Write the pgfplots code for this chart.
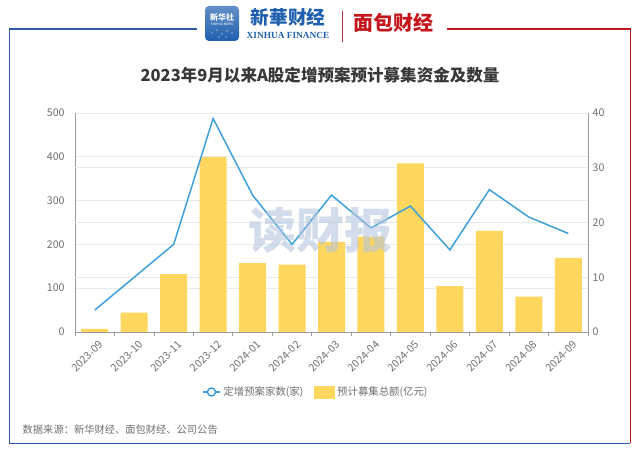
\documentclass[border=0pt]{standalone}
\usepackage{pgfplots}
\pgfplotsset{compat=1.18}
\usepackage{fontspec}
\setmainfont{Noto Sans CJK SC}
\newfontfamily\serifb{Liberation Serif}
\definecolor{barcol}{HTML}{FFD75E}
\definecolor{linecol}{HTML}{3A9FDB}
\definecolor{axgray}{HTML}{9A9A9A}
\definecolor{lblgray}{HTML}{707070}
\definecolor{gridgray}{HTML}{E6E9EE}
\definecolor{frameblue}{HTML}{2D5BA8}
\definecolor{framered}{HTML}{C4161C}
\definecolor{xhblue}{HTML}{1F5FAF}
\definecolor{wm}{HTML}{B4C5DE}
\pgfplotstableread{
x bars line
0 7 4
1 44 10
2 132 16
3 400 39
4 157 25
5 154 16
6 206 25
7 218 19
8 385 23
9 105 15
10 231 26
11 81 21
12 169 18
}\datatable
\begin{document}
\begin{tikzpicture}
\begin{scope}[x=0.75pt,y=-0.75pt,yshift=339.75pt]
\path[use as bounding box,fill=white] (0,0) rectangle (640,453);
% frame
\draw[frameblue,line width=1.2pt] (197,29) -- (9.5,29) -- (9.5,443.5) -- (630,443.5);
\draw[framered,line width=1.2pt] (447,29) -- (630.5,29) -- (630.5,443);
% logos
\shade[top color=xhblue!70,bottom color=xhblue,rounded corners=3pt] (205,6) rectangle (239,41);
\node[text=white,font=\fontsize{6}{6}\selectfont\bfseries] at (222,17) {新华社};
\node[text=white,font=\fontsize{2.5}{3}\selectfont] at (222,24) {XINHUA NEWS};
\foreach \a/\b in {212/33,217/30,222/34,227/31,232/33,219/37,226/37} \fill[white] (\a,\b) circle (0.7);
\node[text=xhblue,font=\fontsize{14}{14}\selectfont\bfseries\itshape] at (288,17) {新華财经};
\node[text=xhblue,font=\fontsize{7}{7}\selectfont\serifb\bfseries] at (288,35) {XINHUA FINANCE};
\draw[framered!70!gray,line width=0.6pt] (342,11) -- (342,42);
\node[text=framered,font=\fontsize{15}{15}\selectfont\bfseries] at (393,23) {面包财经};
% title
\node[text=black!78,font=\fontsize{12.4}{14}\selectfont\bfseries] at (320,75) {2023年9月以来A股定增预案预计募集资金及数量};
\end{scope}
% bars axis
\begin{axis}[
  at={(56.25pt,90.75pt)}, anchor=south west,
  scale only axis, width=384.75pt, height=164.25pt,
  xmin=-0.5, xmax=12.5, ymin=0, ymax=500,
  axis x line*=bottom, axis y line*=left,
  axis line style={axgray,line width=0.6pt},
  ytick={0,100,...,500},
  extra y ticks={125,250,375},
  extra y tick labels={},
  extra y tick style={grid=major, major tick length=0pt},
  ymajorgrids, grid style={gridgray,line width=0.6pt},
  major y tick style={draw=none},
  xtick={0,...,12},
  xticklabels={2023-09,2023-10,2023-11,2023-12,2024-01,2024-02,2024-03,2024-04,2024-05,2024-06,2024-07,2024-08,2024-09},
  major x tick style={draw=none},
  minor xtick={-0.5,0.5,...,12.5},
  minor tick length=3pt,
  minor x tick style={axgray,line width=0.6pt},
  tick align=outside,
  x tick label style={rotate=45,anchor=north east,font=\fontsize{7.9}{8}\selectfont,text=lblgray,inner sep=1pt,yshift=-2pt,xshift=2pt},
  y tick label style={font=\fontsize{8}{9}\selectfont,text=lblgray},
  /pgf/number format/assume math mode=true,
  ybar, bar width=20.25pt,
  clip=false,
]
\addplot[fill=barcol,draw=none] table[x=x,y=bars] {\datatable};
\end{axis}
% line axis
\begin{axis}[
  at={(56.25pt,90.75pt)}, anchor=south west,
  scale only axis, width=384.75pt, height=164.25pt,
  xmin=-0.5, xmax=12.5, ymin=0, ymax=40,
  axis x line=none, axis y line*=right,
  axis line style={axgray,line width=0.6pt},
  ytick={0,10,...,40},
  major y tick style={draw=none},
  y tick label style={font=\fontsize{8}{9}\selectfont,text=lblgray},
  /pgf/number format/assume math mode=true,
  legend columns=2,
  legend style={at={(0.47,-0.274)},anchor=center,draw=none,fill=none,
    font=\fontsize{7.8}{9}\selectfont,text=lblgray,
    /tikz/every even column/.append style={column sep=6pt}},
  legend cell align=left,
]
\addplot[linecol,line width=1.1pt,
  legend image code/.code={\draw[linecol,line width=1.1pt] (0pt,0pt) -- (13pt,0pt);
    \draw[linecol,fill=white,line width=1.1pt] (6.5pt,0pt) circle (3pt);}]
  table[x=x,y=line] {\datatable};
\addlegendentry{定增预案家数(家)}
\addlegendimage{legend image code/.code={\fill[barcol] (0pt,-4.5pt) rectangle (15pt,4.5pt);}}
\addlegendentry{预计募集总额(亿元)}
\end{axis}
\begin{scope}[x=0.75pt,y=-0.75pt,yshift=339.75pt]
% watermark
\node[text=wm,opacity=0.6,font=\fontsize{36}{36}\selectfont\bfseries] at (320,230) {读财报};
% source
\node[anchor=west,text=lblgray,font=\fontsize{7.7}{9}\selectfont] at (18,430) {数据来源：新华财经、面包财经、公司公告};
\end{scope}
\end{tikzpicture}
\end{document}
